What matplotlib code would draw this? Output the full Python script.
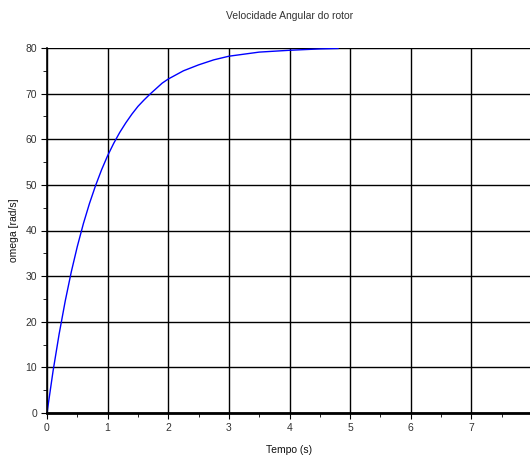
import numpy as np
import matplotlib
matplotlib.use("Agg")
import matplotlib.pyplot as plt

plt.rcParams['font.family'] = ['Liberation Sans', 'DejaVu Sans']

# values
tempo = [0, 0.1, 0.2, 0.3, 0.4, 0.5, 0.6, 0.7, 0.8, 0.9, 1.0, 1.1, 1.2, 1.3,
         1.4, 1.5, 1.6, 1.7, 1.8, 1.9, 2.0, 2.25, 2.5, 2.75, 3.0, 3.5, 4.0,
         4.5, 4.8]
omega = [0, 9.2, 17.3, 24.5, 30.9, 36.5, 41.5, 45.9, 49.8, 53.3, 56.4, 59.1,
         61.5, 63.6, 65.5, 67.2, 68.6, 69.9, 71.1, 72.3, 73.2, 75.0, 76.3,
         77.4, 78.2, 79.1, 79.5, 79.8, 79.9]

xticks = [0, 1, 2, 3, 4, 5, 6, 7, 8]
yticks = [0, 10, 20, 30, 40, 50, 60, 70, 80]

fig = plt.figure(figsize=(5.3, 4.57), dpi=100)
ax = fig.add_axes([47 / 530, 1 - 413 / 457, 485 / 530, 365 / 457])

ax.plot(tempo, omega, color='blue', lw=1.0)

ax.set_xlim(0, 8)
ax.set_ylim(0, 80)
ax.set_xticks(xticks)
ax.set_yticks(yticks)
ax.set_xticks(np.arange(0.5, 8, 1.0), minor=True)
ax.set_yticks(np.arange(5, 80, 10), minor=True)
ax.grid(True, color='black', lw=1.0)
ax.set_axisbelow(True)

ax.spines['top'].set_visible(False)
ax.spines['right'].set_visible(False)
ax.spines['bottom'].set_linewidth(2.0)
ax.spines['left'].set_linewidth(1.2)

ax.tick_params(which='both', direction='out', labelsize=7.5, labelcolor='#333333', pad=3)
ax.tick_params(which='major', length=4)
ax.tick_params(which='minor', length=3)

ax.set_title('Velocidade Angular do rotor', fontsize=7.5, color='#333333', pad=21)
ax.set_xlabel('Tempo (s)', fontsize=7.5, color='#111111', labelpad=9)
ax.set_ylabel('omega [rad/s]', fontsize=7.5, color='#111111', labelpad=5)

fig.savefig('out.png', dpi=100)
